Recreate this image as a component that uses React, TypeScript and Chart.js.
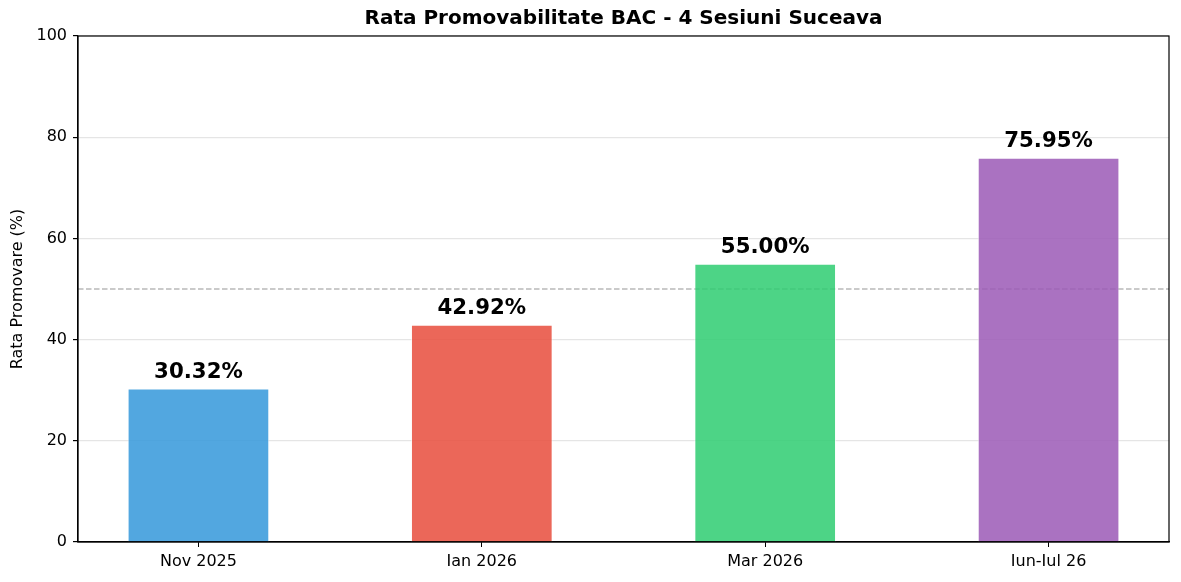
import { useRef, useEffect } from 'react'
import { Chart, registerables } from 'chart.js'

Chart.register(...registerables)

const sessions = ['Nov 2025', 'Ian 2026', 'Mar 2026', 'Iun-Iul 26']
const passRates = [30.32, 42.92, 55.0, 75.95]
const barColors = [
  'rgba(52, 152, 219, 0.85)',
  'rgba(231, 76, 60, 0.85)',
  'rgba(46, 204, 113, 0.85)',
  'rgba(155, 89, 182, 0.85)',
]
const yTicks = [0, 20, 40, 60, 80, 100]
const refLine = 50

const FONT = '"DejaVu Sans", Verdana, sans-serif'

const framePlugin = {
  id: 'frame',
  beforeDatasetsDraw(chart: any) {
    const { ctx, chartArea, scales } = chart
    const y = scales.y.getPixelForValue(refLine)
    ctx.save()
    ctx.strokeStyle = 'rgba(128, 128, 128, 0.55)'
    ctx.lineWidth = 1.3
    ctx.setLineDash([5.5, 2.5])
    ctx.beginPath()
    ctx.moveTo(chartArea.left, y)
    ctx.lineTo(chartArea.right, y)
    ctx.stroke()
    ctx.restore()
  },
  afterDatasetsDraw(chart: any) {
    const { ctx, chartArea, scales } = chart
    ctx.save()
    ctx.font = `bold 21.3px ${FONT}`
    ctx.fillStyle = '#000'
    ctx.textAlign = 'center'
    ctx.textBaseline = 'alphabetic'
    passRates.forEach((v, i) => {
      const x = scales.x.getPixelForValue(i)
      const y = scales.y.getPixelForValue(v)
      ctx.fillText(`${v.toFixed(2)}%`, x, y - 11)
    })
    ctx.strokeStyle = '#000'
    ctx.lineWidth = 1.2
    ctx.strokeRect(chartArea.left, chartArea.top, chartArea.right - chartArea.left, chartArea.bottom - chartArea.top)
    ctx.restore()
  },
}

function PassRateChart() {
  const canvasRef = useRef<HTMLCanvasElement>(null)
  const chartRef = useRef<Chart | null>(null)

  useEffect(() => {
    if (!canvasRef.current) return
    chartRef.current?.destroy()

    chartRef.current = new Chart(canvasRef.current, {
      type: 'bar',
      data: {
        datasets: [
          {
            label: 'Rata Promovare',
            data: passRates.map((v, i) => ({ x: i, y: v })),
            backgroundColor: barColors,
            borderColor: 'rgba(255,255,255,0.6)',
            borderWidth: 1,
            barPercentage: 0.5,
            categoryPercentage: 1,
          },
        ],
      },
      options: {
        animation: false,
        responsive: false,
        maintainAspectRatio: false,
        devicePixelRatio: 1,
        layout: { padding: { top: 0, right: 12, left: 0, bottom: 0 } },
        plugins: {
          legend: { display: false },
          tooltip: { enabled: false },
          title: {
            display: true,
            fullSize: false,
            text: 'Rata Promovabilitate BAC - 4 Sesiuni Suceava',
            color: '#000',
            font: { family: FONT, size: 20, weight: 'bold', lineHeight: 1.2 },
            padding: { top: 7, bottom: 5 },
          },
        },
        scales: {
          x: {
            type: 'linear',
            offset: false,
            min: -0.425,
            max: 3.425,
            afterBuildTicks: (scale: any) => {
              scale.ticks = sessions.map((_, i) => ({ value: i }))
            },
            afterFit: (scale: any) => {
              scale.height = 40
            },
            ticks: {
              color: '#000',
              padding: 5,
              maxRotation: 0,
              font: { family: FONT, size: 16 },
              callback: (v: any) => sessions[v as number] ?? '',
            },
            grid: {
              offset: false,
              drawOnChartArea: false,
              drawTicks: true,
              tickLength: 5,
              tickColor: '#000',
            },
            border: { display: true, color: '#000', width: 1.2 },
          },
          y: {
            min: 0,
            max: 100,
            afterBuildTicks: (scale: any) => {
              scale.ticks = yTicks.map((v) => ({ value: v }))
            },
            afterFit: (scale: any) => {
              scale.width = 78
            },
            ticks: {
              color: '#000',
              padding: 6,
              font: { family: FONT, size: 16 },
            },
            grid: {
              color: 'rgba(0, 0, 0, 0.1)',
              lineWidth: 1.2,
              tickLength: 5,
              tickColor: '#000',
            },
            border: { display: true, color: '#000', width: 1.2 },
            title: {
              display: true,
              text: 'Rata Promovare (%)',
              color: '#000',
              font: { family: FONT, size: 16 },
              padding: { top: 8, bottom: 0 },
            },
          },
        },
      },
      plugins: [framePlugin],
    })

    return () => {
      chartRef.current?.destroy()
    }
  }, [])

  return <canvas ref={canvasRef} width={1181} height={582} style={{ display: 'block' }} />
}

export default function App() {
  return (
    <div style={{ position: 'fixed', left: 0, top: 0, width: 1181, height: 582, background: '#fff' }}>
      <PassRateChart />
    </div>
  )
}
